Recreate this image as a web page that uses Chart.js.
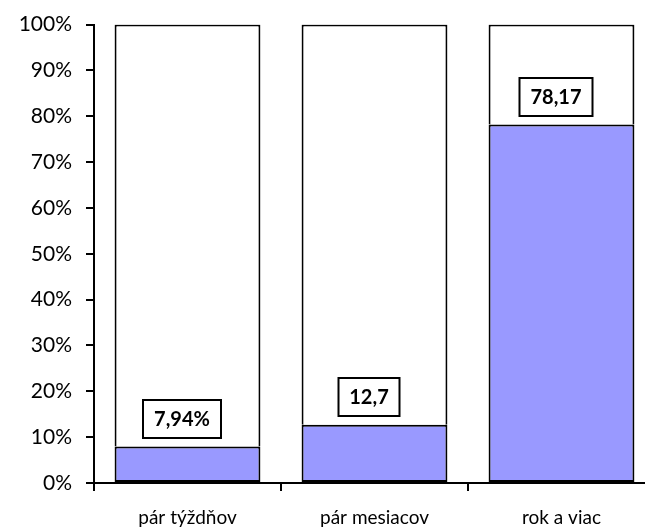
<!DOCTYPE html>
<html>
<head>
<meta charset="utf-8">
<script src="https://cdn.jsdelivr.net/npm/chart.js@4/dist/chart.umd.min.js"></script>
<style>
  html, body { margin: 0; padding: 0; background: #fff; overflow: hidden; }
  #wrap { width: 645px; height: 527px; overflow: hidden; }
</style>
</head>
<body>
<div id="wrap"><canvas id="c" width="662" height="527"></canvas></div>
<script>
// Duration categories and the share (in %) for each
const categories = ['pár týždňov', 'pár mesiacov', 'rok a viac'];
const shares = [7.94, 12.7, 78.17];
const labelSuffix = ['%', '', ''];
const yTicks = [0, 10, 20, 30, 40, 50, 60, 70, 80, 90, 100];

const rest = shares.map(v => 100 - v);
const FONT = 'Lato, "Open Sans", sans-serif';

// Boxed value labels drawn just above each filled segment
const boxLabels = {
  id: 'boxLabels',
  afterDatasetsDraw(chart) {
    const ctx = chart.ctx;
    const meta = chart.getDatasetMeta(0);
    ctx.save();
    ctx.font = 'bold 20px ' + FONT;
    ctx.textAlign = 'center';
    ctx.textBaseline = 'middle';
    meta.data.forEach((bar, i) => {
      const text = String(shares[i]).replace('.', ',') + labelSuffix[i];
      const w = Math.round(ctx.measureText(text).width + 22);
      const h = 38;
      const cx = Math.round(bar.x - 6);
      const cy = Math.round(bar.y - 9 - h / 2);
      ctx.fillStyle = '#fff';
      ctx.fillRect(cx - w / 2, cy - h / 2, w, h);
      ctx.lineWidth = 2;
      ctx.strokeStyle = '#000';
      ctx.strokeRect(cx - w / 2, cy - h / 2, w, h);
      ctx.fillStyle = '#000';
      ctx.fillText(text, cx, cy + 1);
    });
    ctx.restore();
  }
};

new Chart(document.getElementById('c'), {
  type: 'bar',
  data: {
    labels: categories,
    datasets: [
      {
        data: shares,
        backgroundColor: '#9999FF',
        borderColor: '#000',
        borderWidth: 2,
        borderSkipped: false,
        barPercentage: 0.78,
        categoryPercentage: 1
      },
      {
        data: rest,
        backgroundColor: '#fff',
        borderColor: '#000',
        borderWidth: 2,
        borderSkipped: 'start',
        barPercentage: 0.78,
        categoryPercentage: 1
      }
    ]
  },
  options: {
    responsive: false,
    animation: false,
    layout: { padding: { top: 0, right: 7, left: 0, bottom: 0 } },
    plugins: {
      legend: { display: false },
      tooltip: { enabled: false }
    },
    scales: {
      x: {
        stacked: true,
        grid: { display: true, drawOnChartArea: false, offset: true, color: '#000', lineWidth: 2, tickLength: 8 },
        border: { display: true, color: '#000', width: 2 },
        ticks: { color: '#000', font: { family: FONT, size: 19 }, padding: 15, maxRotation: 0 },
        afterFit(scale) { scale.height = 44; }
      },
      y: {
        stacked: true,
        min: 0,
        max: 100,
        afterBuildTicks(scale) { scale.ticks = yTicks.map(v => ({ value: v })); },
        grid: { display: true, drawOnChartArea: false, color: '#000', lineWidth: 2, tickLength: 8 },
        border: { display: true, color: '#000', width: 2 },
        ticks: { color: '#000', font: { family: FONT, size: 21, lineHeight: 1 }, padding: 14, callback: v => v + '%' },
        afterFit(scale) { scale.width = 94; }
      }
    }
  },
  plugins: [boxLabels]
});
</script>
</body>
</html>
